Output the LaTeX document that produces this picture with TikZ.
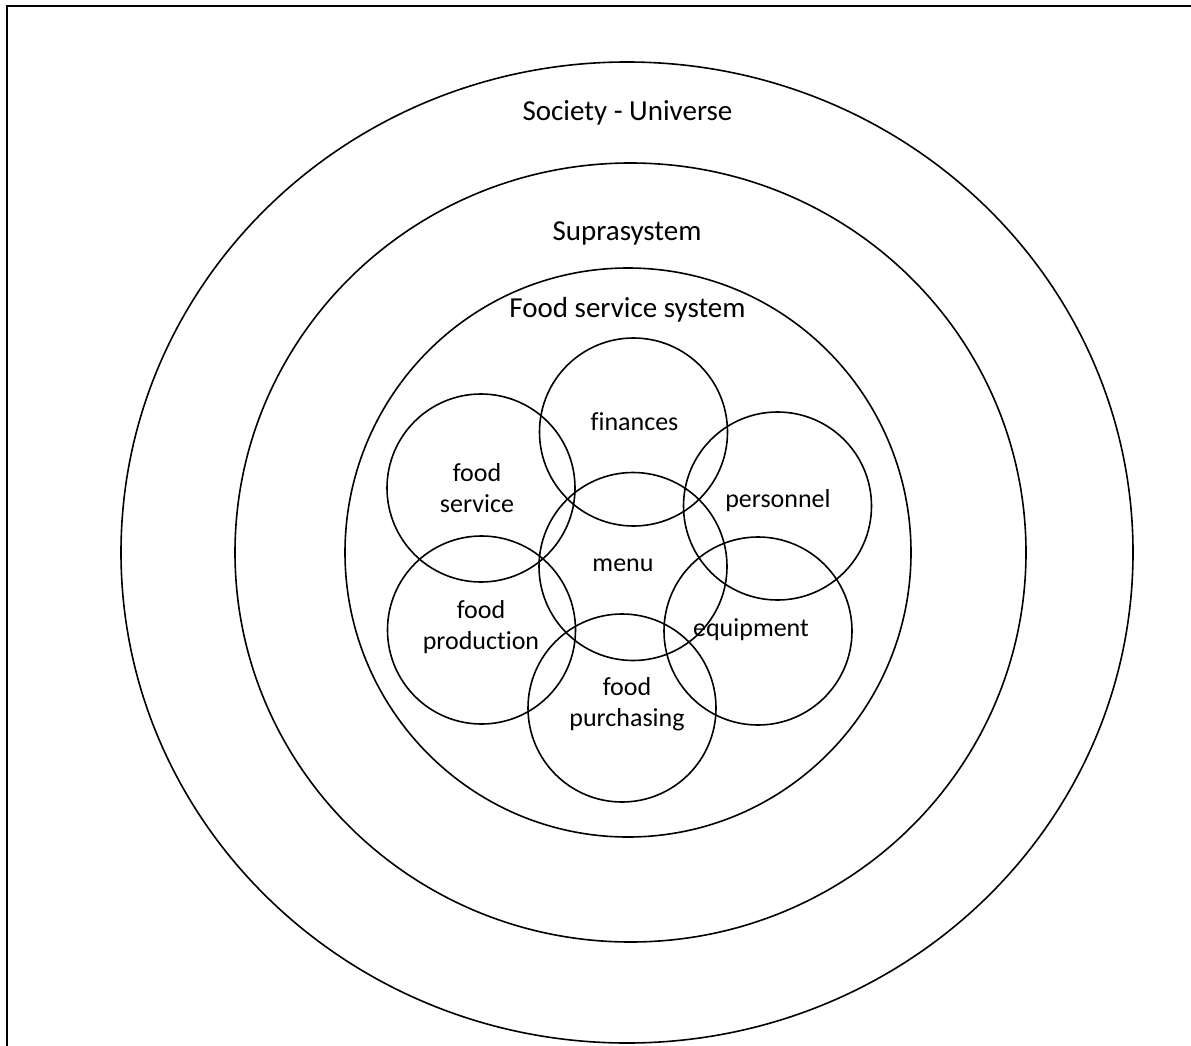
\documentclass[tikz,border=0pt]{standalone}
\usepackage{fontspec}
\setmainfont{Carlito}[Ligatures=NoCommon]
\begin{document}
\begin{tikzpicture}[x=1pt,y=-1pt,
  ring/.style={draw=black,line width=1.6pt},
  sub/.style={circle,draw=black,line width=1.6pt,minimum size=188pt,inner sep=0pt},
  bigtxt/.style={font=\fontsize{29}{35}\selectfont,inner sep=0pt},
  smalltxt/.style={font=\fontsize{26}{31}\selectfont,inner sep=0pt,align=center}]
\useasboundingbox (0,0) rectangle (1191,1046);
\draw[line width=2.5pt] (7,1046) -- (7,6) -- (1191,6);
% concentric rings
\draw[ring] (627,552.5) ellipse [x radius=506, y radius=490.5];
\draw[ring] (630.5,552.5) ellipse [x radius=395.5, y radius=389.5];
\draw[ring] (628,552.5) ellipse [x radius=283, y radius=284.5];
% ring labels
\node[bigtxt] (soc) at (627.5,113) {Society - Universe};
\node[bigtxt] (supra) at (627,233) {Suprasystem};
\node[bigtxt] (fss) at (627.5,310) {Food service system};
% sub circles
\node[sub] (cfin) at (633.5,432) {};
\node[sub] (cfs) at (481,488) {};
\node[sub] (cmenu) at (633,566.5) {};
\node[sub] (cfp) at (481.5,630) {};
\node[sub] (cpur) at (622,708) {};
\node[sub] (cpers) at (777.5,506) {};
\node[sub] (cequip) at (758,631) {};
% sub labels
\node[smalltxt] (tfin) at (634.5,422) {finances};
\node[smalltxt] (tfs) at (477,488) {food\\service};
\node[smalltxt] (tmenu) at (623,565) {menu};
\node[smalltxt] (tfp) at (481,627) {food\\production};
\node[smalltxt] (tpur) at (627,704) {food\\purchasing};
\node[smalltxt] (tpers) at (778,501) {personnel};
\node[smalltxt] (tequip) at (751,630) {equipment};
\end{tikzpicture}
\end{document}
